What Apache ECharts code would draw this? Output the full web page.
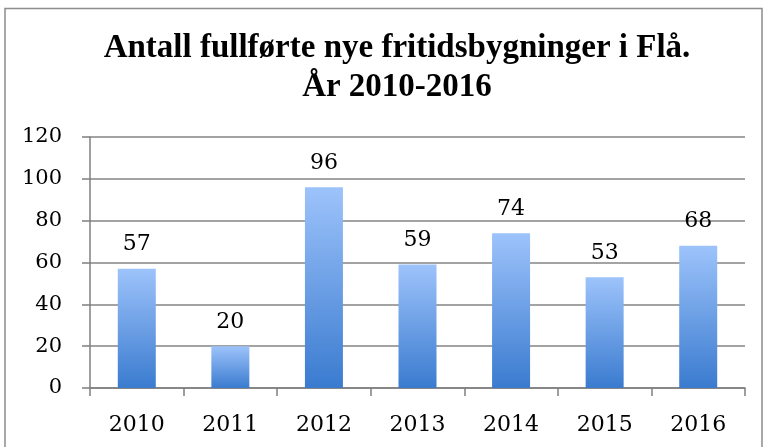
<!DOCTYPE html>
<html>
<head>
<meta charset="utf-8">
<script src="https://cdn.jsdelivr.net/npm/echarts@6/dist/echarts.min.js"></script>
<style>
  html, body { margin: 0; padding: 0; background: #fff; }
  #chart { width: 767px; height: 447px; }
</style>
</head>
<body>
<div id="chart"></div>
<script>
// data
var years = ['2010', '2011', '2012', '2013', '2014', '2015', '2016'];
var fritidsbygninger = [57, 20, 96, 59, 74, 53, 68];

var chart = echarts.init(document.getElementById('chart'));
var titleFont = '"Liberation Serif", "DejaVu Serif", serif';
var serif = '"DejaVu Serif", "Liberation Serif", serif';

var option = {
    backgroundColor: '#fff',
    animation: false,
    title: {
        text: 'Antall fullførte nye fritidsbygninger i Flå.\nÅr 2010-2016',
        left: 392,
        textAlign: 'center',
        top: 24,
        textStyle: {
            fontFamily: titleFont,
            fontWeight: 'bold',
            fontSize: 33,
            lineHeight: 39,
            color: '#000'
        }
    },
    // chart frame
    graphic: [{
        type: 'rect',
        shape: { x: 5, y: 8.5, width: 757, height: 446 },
        style: { fill: null, stroke: '#8c8c8c', lineWidth: 1.5 },
        silent: true
    }],
    grid: {
        left: 90,
        right: 22,
        top: 137,
        bottom: 59
    },
    xAxis: {
        type: 'category',
        data: years,
        boundaryGap: true,
        axisLine: { lineStyle: { color: '#7f7f7f', width: 1.5 } },
        axisTick: { show: true, length: 8, lineStyle: { color: '#7f7f7f', width: 1.5 } },
        axisLabel: { fontFamily: serif, fontSize: 22, color: '#000', margin: 26 }
    },
    yAxis: {
        type: 'value',
        min: 0,
        max: 120,
        interval: 20,
        axisLine: { show: true, lineStyle: { color: '#7f7f7f', width: 1.5 } },
        axisTick: { show: true, length: 8, lineStyle: { color: '#7f7f7f', width: 1.5 } },
        splitLine: { lineStyle: { color: '#858585', width: 1.5 } },
        axisLabel: { fontFamily: serif, fontSize: 21, color: '#000', margin: 28 }
    },
    series: [{
        type: 'bar',
        data: fritidsbygninger,
        barWidth: 38,
        itemStyle: {
            color: new echarts.graphic.LinearGradient(0, 0, 0, 1, [
                { offset: 0, color: '#9dc3fb' },
                { offset: 1, color: '#3a7bcf' }
            ])
        },
        label: {
            show: true,
            position: 'top',
            distance: 13,
            fontFamily: serif,
            fontSize: 22,
            color: '#000'
        }
    }]
};

chart.setOption(option);
</script>
</body>
</html>
